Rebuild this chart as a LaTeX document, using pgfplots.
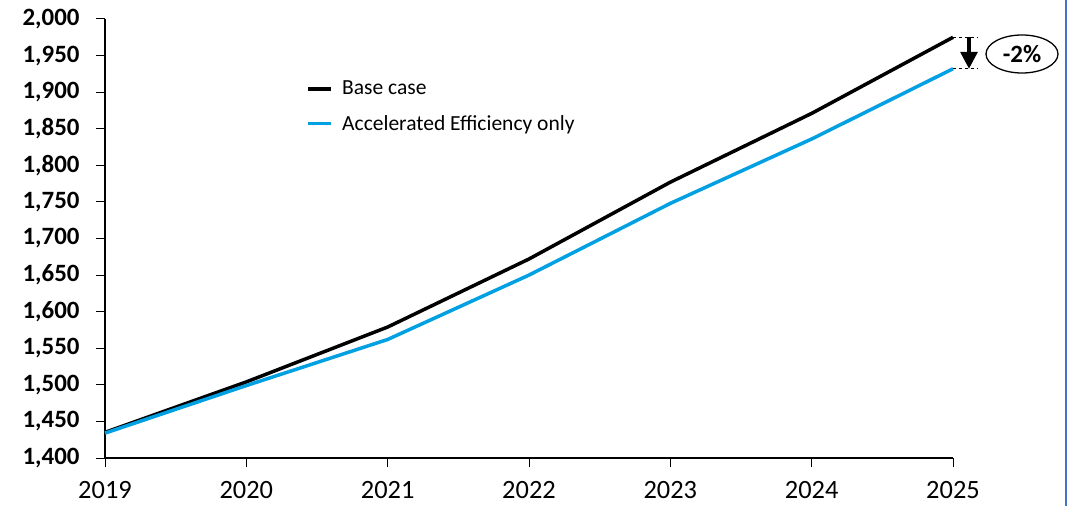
\documentclass[border=0pt]{standalone}
\usepackage{fontspec}
\setmainfont{Carlito}
\usepackage{pgfplots}
\pgfplotsset{compat=1.18}
\usetikzlibrary{arrows.meta,shapes.geometric}
\definecolor{accblue}{RGB}{0,160,227}
\definecolor{edgeblue}{RGB}{68,114,196}
\begin{document}
\begin{tikzpicture}
\useasboundingbox (0bp,0bp) rectangle (1071bp,506bp);
\begin{axis}[
 at={(105bp,48bp)}, anchor=south west,
 scale only axis, width=848bp, height=439bp,
 xmin=2019,xmax=2025,ymin=1400,ymax=2000,
 axis x line*=bottom, axis y line*=left,
 xtick={2019,2020,2021,2022,2023,2024,2025},
 ytick={1400,1450,1500,1550,1600,1650,1700,1750,1800,1850,1900,1950,2000},
 tick align=outside, major tick length=9bp,
 tick style={black, line width=1bp},
 axis line style={black, line width=1.2bp},
 /pgf/number format/assume math mode=true,
 x tick label style={font=\fontsize{26.5}{28}\selectfont, /pgf/number format/1000 sep={}, yshift=-11bp},
 y tick label style={font=\fontsize{25}{27}\selectfont\bfseries, /pgf/number format/1000 sep={,}, xshift=-13bp},
 clip=false,
 legend style={draw=none, fill=none, at={(0.2335,0.868)}, anchor=north west, font=\fontsize{21.6}{24}\selectfont, row sep=15bp,
   nodes={inner xsep=9.5bp}},
 legend cell align=left,
 legend image code/.code={\draw[#1, line width=3.5bp] (0bp,0bp) -- (23bp,0bp);},
]
\addplot[black, line width=3.5bp] coordinates {(2019,1435) (2020,1504) (2021,1579) (2022,1672) (2023,1777) (2024,1871) (2025,1975)};
\addlegendentry{Base case}
\addplot[accblue, line width=3.5bp] coordinates {(2019,1434) (2020,1499) (2021,1562) (2022,1650) (2023,1748) (2024,1836) (2025,1932)};
\addlegendentry{Accelerated Efficiency only}
\coordinate (T) at (axis cs:2025,1975);
\coordinate (B) at (axis cs:2025,1932);
\end{axis}
\draw[dashed, dash pattern=on 3bp off 3bp, line width=0.9bp] (T) -- ++(25bp,0bp);
\draw[dashed, dash pattern=on 3bp off 3bp, line width=0.9bp] (B) -- ++(25bp,0bp);
\draw[line width=3.5bp, -{Triangle[length=17bp,width=17bp]}] ([xshift=16bp]T) -- ([xshift=16bp]B);
\node[ellipse, draw, line width=1.3bp, minimum width=72bp, minimum height=38bp, inner sep=0pt, font=\bfseries\fontsize{25}{27}\selectfont] at (1022bp,452bp) {-2\%};
\draw[edgeblue, line width=2bp] (1066bp,0bp) -- (1066bp,506bp);
\end{tikzpicture}
\end{document}
